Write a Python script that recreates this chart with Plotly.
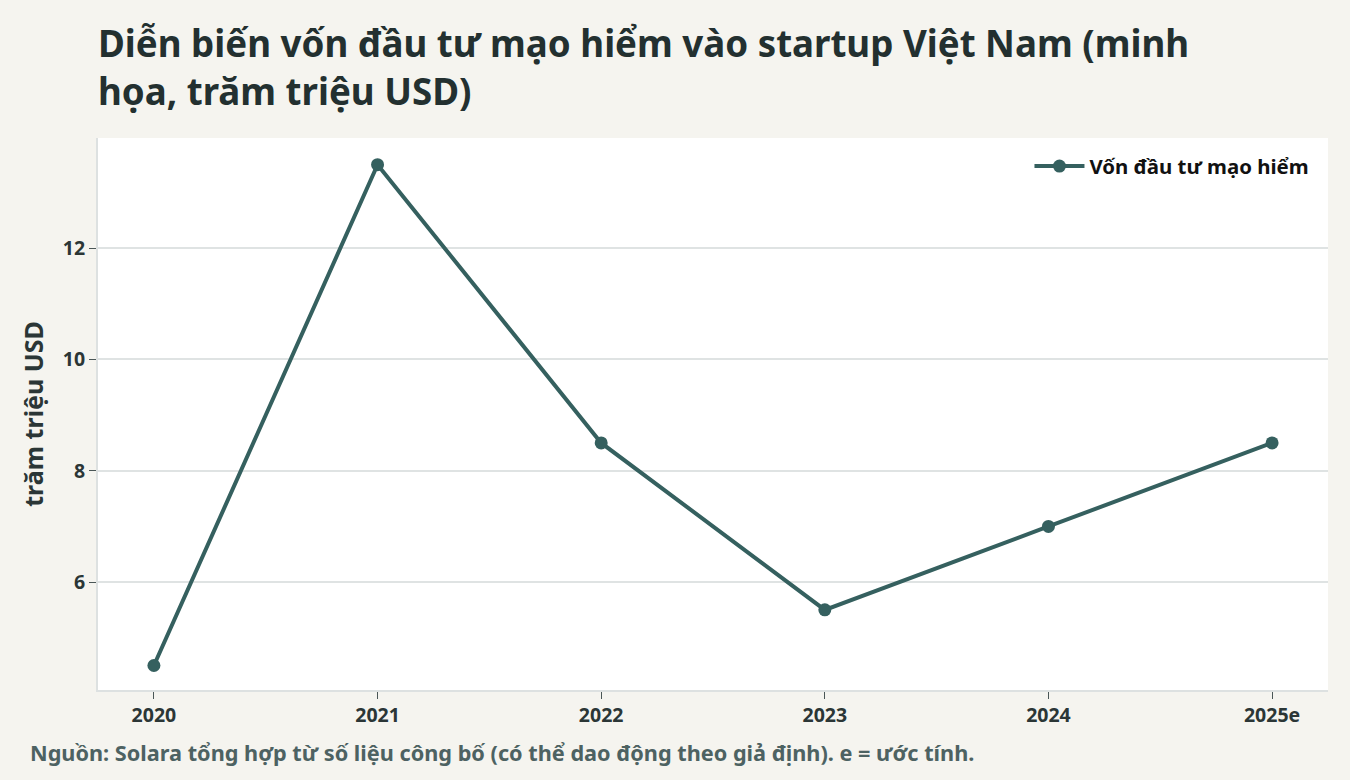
import plotly.graph_objects as go

years = ["2020", "2021", "2022", "2023", "2024", "2025e"]
von_dau_tu = [4.5, 13.5, 8.5, 5.5, 7.0, 8.5]
y_ticks = [6, 8, 10, 12]

font_family = "Noto Sans, sans-serif"
line_color = "#35605f"

fig = go.Figure()
fig.add_trace(go.Scatter(
    x=years, y=von_dau_tu, mode="lines+markers",
    name="Vốn đầu tư mạo hiểm",
    line=dict(color=line_color, width=4),
    marker=dict(color=line_color, size=13),
))

fig.update_layout(
    width=1350, height=780,
    paper_bgcolor="#f5f4ef", plot_bgcolor="#ffffff",
    font=dict(family=font_family, color="#2b3636"),
    margin=dict(l=98, r=22, t=138, b=90),
    title=dict(
        text="Diễn biến vốn đầu tư mạo hiểm vào startup Việt Nam (minh<br>họa, trăm triệu USD)",
        x=98 / 1350, xanchor="left", y=0.9264, yanchor="top",
        font=dict(size=36.7, color="#233030", family=font_family, weight="bold"),
    ),
    legend=dict(
        x=0.989, xanchor="right", y=0.985, yanchor="top",
        bgcolor="rgba(0,0,0,0)", itemwidth=50,
        font=dict(size=20.4, color="#111111", family=font_family, weight="bold"),
    ),
    showlegend=True,
)
fig.update_xaxes(
    type="category", range=[-0.25, 5.25],
    showgrid=False, showline=True, linecolor="#dde1e1", linewidth=2,
    ticks="outside", ticklen=7, tickcolor="#4a5656",
    tickfont=dict(size=19.5, color="#2b3636", weight="bold"),
)
fig.update_yaxes(
    range=[4.06, 13.98], tickvals=y_ticks,
    showgrid=True, gridcolor="#dfe3e3", gridwidth=1.5,
    showline=True, linecolor="#dde1e1", linewidth=2,
    ticks="outside", ticklen=7, tickcolor="#4a5656",
    tickfont=dict(size=19.5, color="#2b3636", weight="bold"),
    zeroline=False,
    title=dict(text="trăm triệu USD", font=dict(size=25, color="#2b3636", weight="bold"), standoff=12),
)
fig.add_annotation(
    text="Nguồn: Solara tổng hợp từ số liệu công bố (có thể dao động theo giả định). e = ước tính.",
    xref="paper", yref="paper", x=-70 / 1230, y=-0.113, xanchor="left", yanchor="middle",
    showarrow=False, font=dict(size=21.7, color="#4d6262", family=font_family, weight="bold"),
)

fig.write_html("out.html", config={"displayModeBar": False},
               post_script="document.body.style.margin='0';")
